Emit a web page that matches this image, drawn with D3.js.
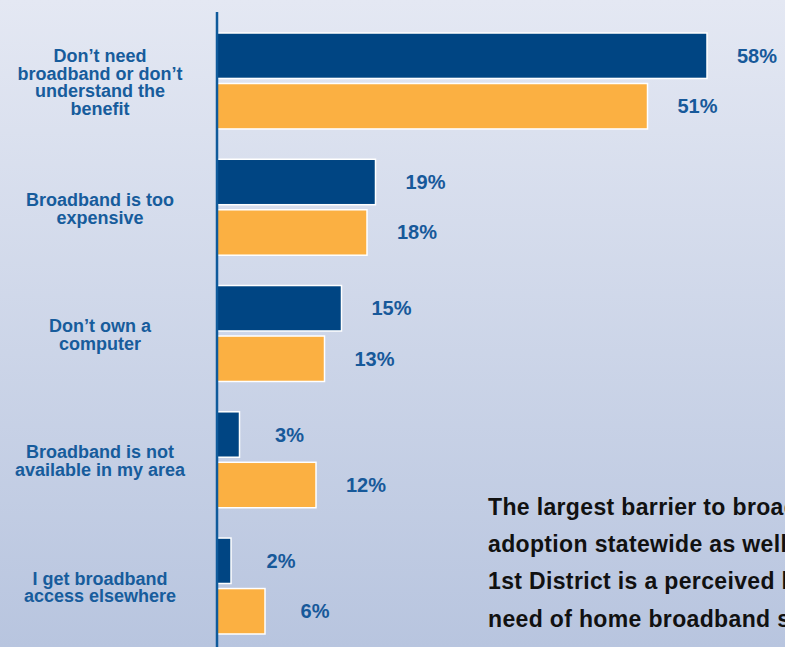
<!DOCTYPE html>
<html>
<head>
<meta charset="utf-8">
<script src="https://cdn.jsdelivr.net/npm/d3@7"></script>
<style>
  html, body { margin: 0; padding: 0; overflow: hidden; }
  svg { display: block; }
</style>
</head>
<body>
<svg id="chart"></svg>
<script>
const categories = [
  ["Don\u2019t need", "broadband or don\u2019t", "understand the", "benefit"],
  ["Broadband is too", "expensive"],
  ["Don\u2019t own a", "computer"],
  ["Broadband is not", "available in my area"],
  ["I get broadband", "access elsewhere"]
];
const seriesNames = ["Statewide", "1st District"];
const statewide = [58, 19, 15, 3, 2];
const district = [51, 18, 13, 12, 6];
const caption = [
  "The largest barrier to broadband",
  "adoption statewide as well as in the",
  "1st District is a perceived lack of",
  "need of home broadband service."
];

const w = 785;
const h = 647;
const axisX = 217;
const colors = ["#004583", "#fbb042"];

const svg = d3.select("#chart").attr("width", w).attr("height", h);

// background gradient
const grad = svg.append("defs").append("linearGradient")
  .attr("id", "bg").attr("x1", 0).attr("y1", 0).attr("x2", 0).attr("y2", 1);
grad.append("stop").attr("offset", "0%").attr("stop-color", "#e4e8f3");
grad.append("stop").attr("offset", "100%").attr("stop-color", "#b8c5df");
svg.append("rect").attr("width", w).attr("height", h).attr("fill", "url(#bg)");

const rows = categories.map((c, i) => ({ key: i, label: c, values: [statewide[i], district[i]] }));

const y0 = d3.scaleBand()
  .domain(rows.map(d => d.key))
  .range([33, 634])
  .paddingInner(0.24)
  .paddingOuter(0);

const y1 = d3.scaleBand()
  .domain(seriesNames)
  .range([0, y0.bandwidth()])
  .paddingInner(0.1);

// zero sits just behind the axis line
const x = d3.scaleLinear()
  .domain([0, 58])
  .range([214, 707]);

const groups = svg.selectAll("g.group")
  .data(rows)
  .enter()
  .append("g")
  .attr("class", "group")
  .attr("transform", d => "translate(0," + y0(d.key) + ")");

const cells = groups.selectAll("g.cell")
  .data(d => d.values.map((v, j) => ({ name: seriesNames[j], value: v, j: j })))
  .enter()
  .append("g")
  .attr("class", "cell");

cells.append("rect")
  .attr("x", axisX)
  .attr("y", d => y1(d.name))
  .attr("width", d => x(d.value) - axisX)
  .attr("height", y1.bandwidth())
  .attr("fill", d => colors[d.j])
  .attr("stroke", "#ffffff")
  .attr("stroke-width", 1.5);

cells.append("text")
  .text(d => d.value + "%")
  .attr("x", d => x(d.value) + 50)
  .attr("y", d => y1(d.name) + y1.bandwidth() / 2 + 7)
  .attr("text-anchor", "middle")
  .attr("font-family", "Liberation Sans, Arial, Helvetica, sans-serif")
  .attr("font-weight", "bold")
  .attr("font-size", 20)
  .attr("fill", "#17599a");

// category labels
const lineH = 17.7;
groups.append("text")
  .attr("text-anchor", "middle")
  .attr("font-family", "Liberation Sans, Arial, Helvetica, sans-serif")
  .attr("font-weight", "bold")
  .attr("font-size", 18)
  .attr("fill", "#175c9c")
  .each(function(d) {
    const t = d3.select(this);
    const mid = y0.bandwidth() / 2;
    d.label.forEach((line, k) => {
      t.append("tspan")
        .attr("x", 100)
        .attr("y", mid - (d.label.length - 1) * lineH / 2 + k * lineH + 7.5)
        .text(line);
    });
  });

// axis line
svg.append("line")
  .attr("x1", axisX).attr("x2", axisX)
  .attr("y1", 12).attr("y2", h)
  .attr("stroke", "#0f5a9b")
  .attr("stroke-width", 2.5);

// caption
svg.append("g")
  .selectAll("text")
  .data(caption)
  .enter()
  .append("text")
  .text(d => d)
  .attr("x", 488)
  .attr("y", (d, i) => 515 + i * 37.2)
  .attr("font-family", "Liberation Sans, Arial, Helvetica, sans-serif")
  .attr("font-weight", "bold")
  .attr("font-size", 23)
  .attr("letter-spacing", 0.35)
  .attr("fill", "#111111");
</script>
</body>
</html>
